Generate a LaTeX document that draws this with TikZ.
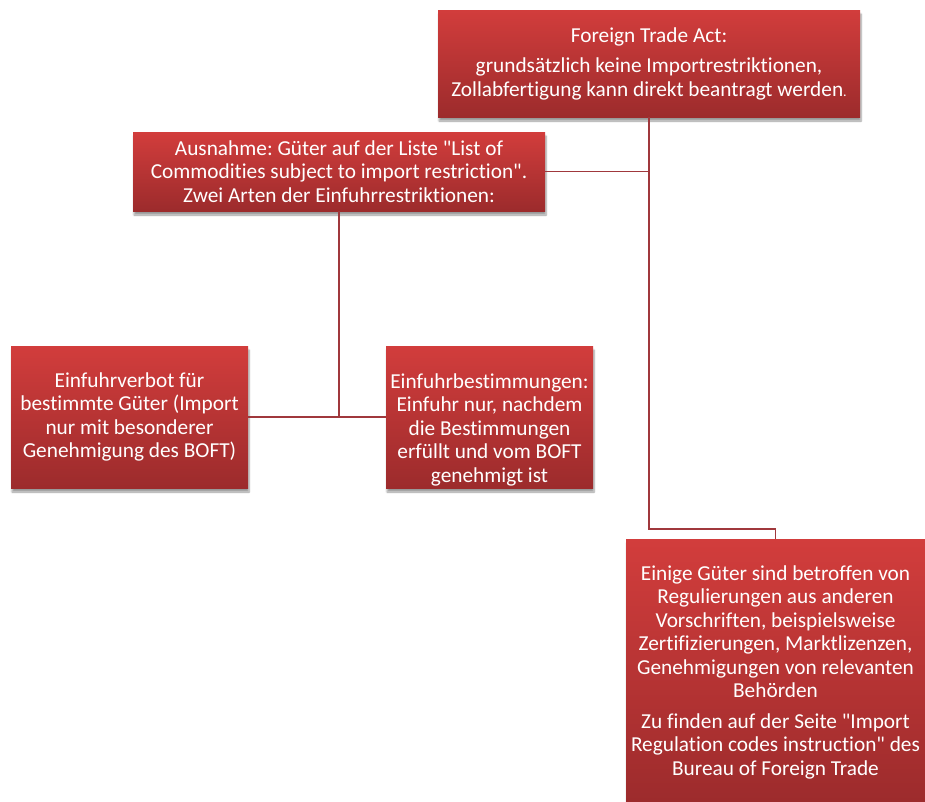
\documentclass[tikz,border=0pt]{standalone}
\usepackage{fontspec}
\setmainfont{Carlito}[Ligatures={TeXOff,NoCommon}]
\usetikzlibrary{shadows,shadows.blur,calc}

\definecolor{cardtop}{HTML}{D23D3C}
\definecolor{cardbot}{HTML}{9C2B2C}
\definecolor{linkred}{HTML}{A0383C}

\begin{document}
\begin{tikzpicture}[x=1pt, y=-1pt,
    card/.style={top color=cardtop, bottom color=cardbot, inner sep=0pt, align=center, text=white,
        font=\fontsize{21.3}{23.5}\selectfont\frenchspacing,
        blur shadow={shadow xshift=1pt, shadow yshift=-4pt, shadow blur steps=6, shadow opacity=40}},
    link/.style={line width=1.5pt, draw=linkred}
]
    \useasboundingbox (0,0) rectangle (925,801);

    % --- Top: general rule ---
    \node[card, minimum width=422pt, minimum height=107pt] (act) at (649, 63.5)
        {Foreign Trade Act:\\[7pt]
         grundsätzlich keine Importrestriktionen,\\
         Zollabfertigung kann direkt beantragt werden{\fontsize{14}{14}\selectfont.}};

    % --- Exception and its two kinds ---
    \node[card, minimum width=412pt, minimum height=79pt] (exc) at (339, 171.5)
        {Ausnahme: Güter auf der Liste "List of\\
         Commodities subject to import restriction".\\
         Zwei Arten der Einfuhrrestriktionen:};

    \node[card, minimum width=237pt, minimum height=142pt] (ban) at (129.5, 417)
        {Einfuhrverbot für\\ bestimmte Güter (Import\\ nur mit besonderer\\ Genehmigung des BOFT)};

    \node[card, minimum width=207pt, minimum height=142pt] (rule) at (489.5, 417)
        {\rule{0pt}{40pt}Einfuhrbestimmungen:\\ Einfuhr nur, nachdem\\ die Bestimmungen\\ erfüllt und vom BOFT\\ genehmigt ist};

    % --- Right: other regulations ---
    \node[card, minimum width=299pt, minimum height=266pt] (reg) at (775.5, 672)
        {Einige Güter sind betroffen von\\ Regulierungen aus anderen\\ Vorschriften, beispielsweise\\
         Zertifizierungen, Marktlizenzen,\\ Genehmigungen von relevanten\\ Behörden\\[7pt]
         Zu finden auf der Seite "Import\\ Regulation codes instruction" des\\ Bureau of Foreign Trade};

    % --- Connectors ---
    \draw[link] (act.south) -- ++(0, 412) -| (reg.north);
    \draw[link] (exc.east) -- (exc.east -| act.south);
    \draw[link] (exc.south) -- (exc.south |- ban.east);
    \draw[link] (ban.east) -- (rule.west);

\end{tikzpicture}
\end{document}
